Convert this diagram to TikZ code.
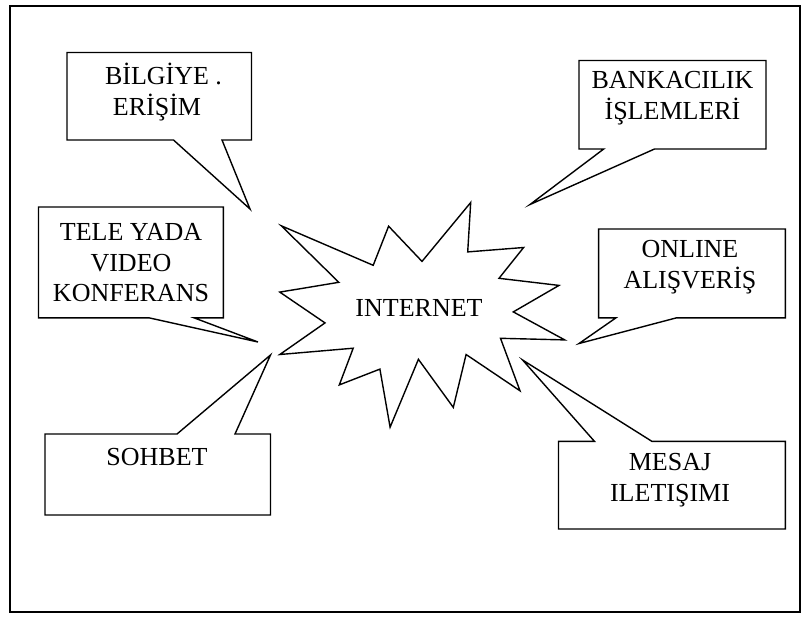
\documentclass[tikz,border=0pt]{standalone}
\usepackage{fontspec}
\setmainfont{Liberation Serif}
\begin{document}
\begin{tikzpicture}[x=1pt,y=-1pt,
  callout/.style={draw=black,fill=white,line width=1.4pt,line join=miter},
  burst/.style={draw=black,fill=white,line width=1.4pt,line join=miter},
  label/.style={align=center,font=\fontsize{26}{30.5}\selectfont,inner sep=0pt}]
\useasboundingbox (0,0) rectangle (805,619);
\draw[line width=1.4pt] (10,6) rectangle (800,612);
% coordinates of callout tips
\coordinate (tipA) at (250,209);
\coordinate (tipB) at (530,204.5);
\coordinate (tipC) at (258,342);
\coordinate (tipD) at (579,343.5);
\coordinate (tipE) at (270.5,355);
\coordinate (tipF) at (522.6,360);
% BILGIYE
\draw[callout] (67,52.5) -- (251.5,52.5) -- (251.5,140) -- (222,140) -- (tipA) -- (173.5,140) -- (67,140) -- cycle;
% BANKACILIK
\draw[callout] (579,60.5) -- (766,60.5) -- (766,149) -- (654.5,149) -- (tipB) -- (603.7,149) -- (579,149) -- cycle;
% TELE YADA
\draw[callout] (38.5,207) -- (223.3,207) -- (223.3,317.8) -- (194,317.8) -- (tipC) -- (148.9,317.8) -- (38.5,317.8) -- cycle;
% ONLINE
\draw[callout] (598.6,229) -- (785.4,229) -- (785.4,317.8) -- (676.6,317.8) -- (tipD) -- (616,317.8) -- (598.6,317.8) -- cycle;
% SOHBET
\draw[callout] (45,434) -- (177,434) -- (tipE) -- (235,434) -- (270.5,434) -- (270.5,515) -- (45,515) -- cycle;
% MESAJ
\draw[callout] (558.5,441.4) -- (594.5,441.4) -- (tipF) -- (652,441.4) -- (785.4,441.4) -- (785.4,529) -- (558.5,529) -- cycle;
% star burst
\draw[burst] (281.3,225.8) -- (373.2,265.3) -- (388.6,226.2) -- (422,261.4) -- (470.7,202.5)
  -- (467.7,251.9) -- (523.6,247.5) -- (499,278.3) -- (559,285.4) -- (513.3,311.9)
  -- (564.7,339.9) -- (500.5,338.3) -- (520,390.8) -- (466.1,354.5) -- (453.3,407.4)
  -- (418.4,359.3) -- (390.1,427.2) -- (379.9,369.1) -- (339.3,384.9) -- (353.2,348.2)
  -- (279.8,354.5) -- (325,322.9) -- (279.8,292.1) -- (338.8,282.3) -- cycle;
% texts
\node[label] (internet) at (419,308) {INTERNET};
\node[label] (bilgi) at (157,92) {BİLGİYE\rlap{ .}\\ERİŞİM};
\node[label] (bank) at (672.5,98) {BANKACILIK\\İŞLEMLERİ};
\node[label] (tele) at (131,263) {TELE YADA\\VIDEO\\KONFERANS};
\node[label] (online) at (690,267) {ONLINE\\ALIŞVERİŞ};
\node[label] (sohbet) at (157,457) {SOHBET};
\node[label] (mesaj) at (670,480) {MESAJ\\ILETIŞIMI};
\end{tikzpicture}
\end{document}
